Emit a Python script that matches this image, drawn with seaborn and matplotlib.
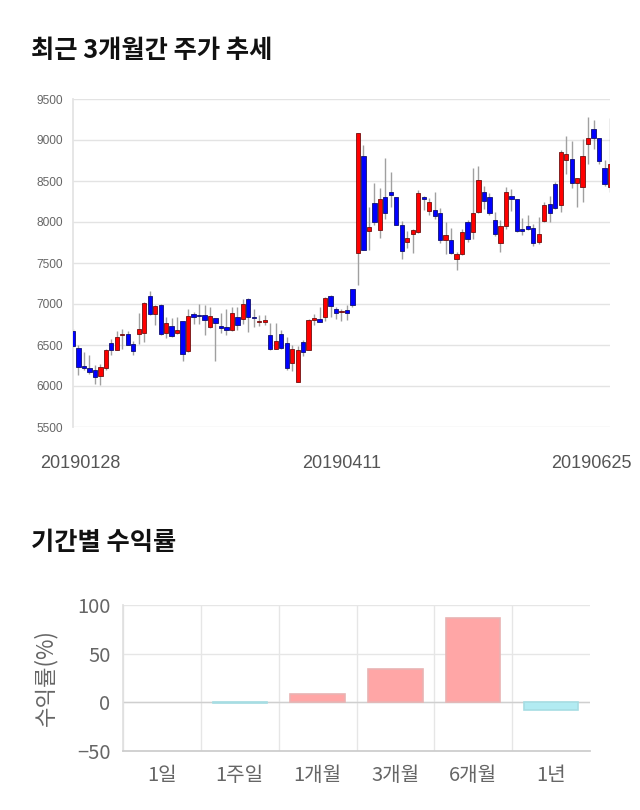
import numpy as np
import pandas as pd
import seaborn as sns
import matplotlib.pyplot as plt
import matplotlib.transforms as mtransforms

# daily candles 2019-01-28 .. 2019-06-25
opens = [6666, 6467, 6240, 6220, 6200, 6121, 6220, 6528, 6442, 6621,
         6638, 6515, 6630, 6646, 7102, 6874, 6988, 6646, 6727, 6646,
         6788, 6422, 6882, 6862, 6862, 6723, 6829, 6735, 6719, 6682,
         6845, 6817, 7057, 6845, 6776, 6780, 6617, 6454, 6638, 6523,
         6283, 6047, 6536, 6434, 6805, 6821, 6841, 7098, 6943, 6902,
         6931, 7179, 7627, 8808, 7888, 8226, 7900, 8307, 8368, 8307,
         7969, 7757, 7855, 7880, 8307, 8136, 8152, 8112, 7778, 7778,
         7550, 7615, 8002, 7880, 8124, 8368, 8307, 8022, 7745, 7953,
         8319, 8279, 7904, 7949, 7928, 7757, 8010, 8222, 8458, 8205,
         8751, 8771, 8470, 8429, 8946, 9138, 9028, 8661, 8429]
highs = [6700, 6503, 6414, 6373, 6260, 6267, 6455, 6568, 6674, 6690,
         6670, 6552, 6890, 7025, 7155, 6992, 6996, 6841, 6829, 6841,
         6792, 6943, 6902, 7004, 6992, 6963, 6829, 6894, 6943, 6963,
         6963, 7057, 7073, 6943, 6862, 6862, 6772, 6772, 6682, 6597,
         6495, 6487, 6556, 6821, 6882, 6963, 7086, 7114, 6963, 6943,
         6992, 7187, 9081, 8938, 8185, 8470, 8417, 8775, 8613, 8307,
         8010, 7888, 7920, 8389, 8319, 8295, 8368, 8173, 8002, 7928,
         7635, 7912, 8022, 8661, 8686, 8441, 8348, 8124, 8022, 8421,
         8401, 8279, 8051, 8083, 7981, 8063, 8246, 8315, 8490, 8877,
         9052, 8987, 8531, 9007, 9280, 9239, 9028, 8755, 9264]
lows = [6480, 6129, 6190, 6150, 6027, 6015, 6190, 6373, 6434, 6446,
        6495, 6381, 6515, 6536, 6862, 6740, 6618, 6585, 6597, 6638,
        6300, 6414, 6760, 6760, 6625, 6707, 6300, 6650, 6625, 6670,
        6678, 6760, 6658, 6715, 6727, 6740, 6434, 6446, 6454, 6190,
        6178, 6047, 6361, 6434, 6748, 6780, 6788, 6841, 6821, 6792,
        6805, 6963, 7236, 7656, 7656, 7969, 7806, 8042, 8185, 7961,
        7554, 7684, 7619, 7871, 8144, 8083, 8042, 7749, 7607, 7615,
        7411, 7595, 7757, 7798, 8104, 8156, 8091, 7831, 7635, 7912,
        8132, 7872, 7847, 7900, 7704, 7729, 7994, 8002, 8156, 8124,
        8580, 8409, 8185, 8246, 8710, 8889, 8702, 8441, 8360]
closes = [6487, 6227, 6220, 6175, 6105, 6227, 6442, 6434, 6597, 6638,
          6503, 6426, 6699, 7016, 6874, 6971, 6630, 6768, 6609, 6678,
          6393, 6853, 6837, 6850, 6809, 6853, 6764, 6703, 6682, 6894,
          6743, 6996, 6837, 6829, 6788, 6809, 6446, 6548, 6467, 6218,
          6454, 6434, 6414, 6809, 6829, 6784, 7073, 6971, 6890, 6919,
          6894, 6984, 9081, 7656, 7941, 7994, 8279, 8104, 8327, 7969,
          7643, 7810, 7904, 8356, 8279, 8238, 8075, 7778, 7847, 7627,
          7607, 7880, 7790, 8112, 8507, 8258, 8104, 7855, 7949, 8368,
          8279, 7888, 7896, 7916, 7749, 7855, 8213, 8112, 8173, 8849,
          8824, 8470, 8531, 8808, 9028, 9028, 8743, 8458, 8706]

date_labels = ["20190128", "20190411", "20190625"]
date_idx = [0, 49, 98]

periods = ["1일", "1주일", "1개월", "3개월", "6개월", "1년"]
returns = [0.0, -0.5, 8.9, 34.6, 86.3, -8.2]

sns.set_theme(style="white")
plt.rcParams['font.family'] = ['Noto Sans CJK KR', 'DejaVu Sans']

fig = plt.figure(figsize=(6.4, 8.1), dpi=100)

# ---- top: candlestick chart ----
df = pd.DataFrame({"open": opens, "high": highs, "low": lows, "close": closes})
df["x"] = np.arange(len(df))
df["up"] = df["close"] > df["open"]
df["lo"] = df[["open", "close"]].min(axis=1)
df["h"] = (df["close"] - df["open"]).abs().clip(lower=14)

ax = fig.add_axes([73/640, 1-427/810, 537/640, 328/810])
ax.vlines(df["x"], df["low"], df["high"], color="#a0a0a0", lw=1, zorder=2)
ax.bar(df["x"], df["h"], bottom=df["lo"], width=0.78,
       color=np.where(df["up"], "#ff0000", "#0000ff"),
       edgecolor=np.where(df["up"], "#701010", "#101070"),
       linewidth=0.6, zorder=3)
ax.set_xlim(0, 98)
ax.set_ylim(5500, 9500)
ax.set_yticks(np.arange(5500, 9501, 500))
ax.yaxis.grid(True, color="#e3e3e3", lw=1)
ax.set_axisbelow(True)
for s in ["top", "right", "bottom"]:
    ax.spines[s].set_visible(False)
ax.spines["left"].set_color("#e3e3e3")
ax.tick_params(axis="y", length=0, pad=7, labelsize=8.6, labelcolor="#666666")
ax.set_xticks(date_idx)
ax.set_xticklabels(date_labels)
ax.tick_params(axis="x", length=0, pad=20, labelsize=13, labelcolor="#555555")
for lab in ax.get_yticklabels():
    lab.set_family(["Liberation Sans", "DejaVu Sans"])
shifts = [7, 0, -19]
for lab, dx in zip(ax.get_xticklabels(), shifts):
    lab.set_family(["Liberation Sans", "DejaVu Sans"])
    lab.set_transform(lab.get_transform() + mtransforms.ScaledTranslation(dx/100, 0, fig.dpi_scale_trans))

fig.text(31/640, 1-50/810, "최근 3개월간 주가 추세", fontsize=18.2, fontweight="heavy",
         va="center", ha="left", color="#111111")

# ---- bottom: period returns ----
ret_df = pd.DataFrame({"period": periods, "ret": returns})
colors = ["#ffa6a6" if r >= 0 else "#b2ebf2" for r in returns]
edges = ["#e9b3b3" if r >= 0 else "#a6dde3" for r in returns]

ax2 = fig.add_axes([123/640, 1-751/810, 467/640, 146/810])
sns.barplot(data=ret_df, x="period", y="ret", hue="period", palette=colors,
            legend=False, width=0.7, saturation=1, ax=ax2, linewidth=1.2)
for patch, ec, r in zip(ax2.patches, edges, returns):
    patch.set_edgecolor(ec)
    patch.set_zorder(3)
    if r == 0:
        patch.set_linewidth(0)
ax2.set_xlim(-0.5, 5.5)
ax2.set_ylim(-50, 100)
ax2.set_yticks([-50, 0, 50, 100])
ax2.yaxis.grid(True, color="#e6e6e6", lw=1)
ax2.set_xticks(np.arange(-0.5, 5), minor=True)
ax2.xaxis.grid(True, which="minor", color="#e6e6e6", lw=1)
ax2.xaxis.grid(False, which="major")
ax2.set_axisbelow(True)
ax2.axhline(0, color="#cfcfcf", lw=1, zorder=1)
for s in ["top", "right"]:
    ax2.spines[s].set_visible(False)
ax2.spines["left"].set_color("#e0e0e0")
ax2.spines["bottom"].set_color("#cccccc")
ax2.tick_params(axis="x", which="major", length=0, pad=10, labelsize=14.5, labelcolor="#666666")
ax2.tick_params(axis="x", which="minor", length=8, color="#e0e0e0", width=1)
ax2.tick_params(axis="y", length=7, width=1, color="#e0e0e0", pad=2, labelsize=14.5, labelcolor="#666666")
ax2.set_xlabel("")
ax2.set_ylabel("수익률(%)", fontsize=16, color="#666666", labelpad=14)

fig.text(31/640, 1-543/810, "기간별 수익률", fontsize=18.2, fontweight="heavy",
         va="center", ha="left", color="#111111")

fig.savefig("out.png", dpi=100)
